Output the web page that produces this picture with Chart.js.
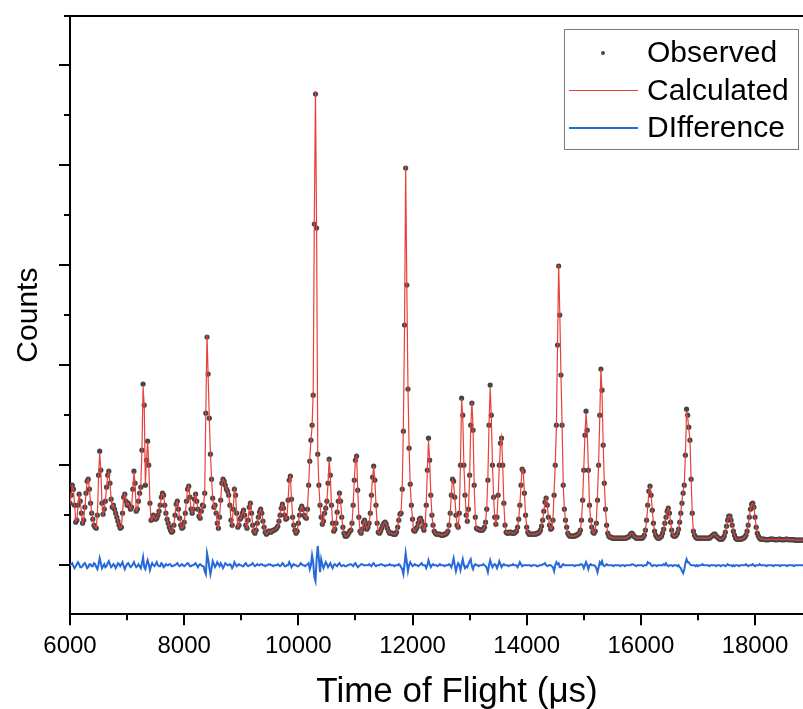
<!DOCTYPE html>
<html>
<head>
<meta charset="utf-8">
<title>Time of flight refinement</title>
<script src="https://cdn.jsdelivr.net/npm/chart.js@4.4.1/dist/chart.umd.min.js"></script>
<style>
  html, body { margin: 0; padding: 0; background: #fff; }
  #wrap { width: 803px; height: 709px; }
</style>
</head>
<body>
<div id="wrap"><canvas id="tofChart" width="803" height="709"></canvas></div>
<script>
// time-of-flight grid (µs), one value every 20 µs, 20 values per row
const tofStart = 6000;
const tofStep = 20;

// counts (arbitrary units, 1000 per major y tick)
const observed = [
  620, 700, 800, 760, 600, 430, 450, 600, 710, 640, 520, 420, 450, 580, 720, 840, 860, 760, 620, 520,
  460, 400, 380, 370, 500, 900, 1140, 950, 620, 510, 560, 640, 780, 900, 940, 820, 660, 580, 600, 560,
  520, 480, 440, 400, 370, 380, 520, 680, 710, 640, 600, 620, 590, 560, 580, 760, 940, 820, 540, 560,
  640, 720, 780, 1150, 1810, 1600, 800, 1050, 1240, 1000, 620, 450, 460, 500, 480, 460, 470, 500, 540, 600,
  680, 720, 700, 600, 520, 460, 420, 380, 350, 330, 340, 400, 500, 610, 640, 560, 470, 400, 370, 380,
  430, 520, 640, 760, 790, 680, 560, 520, 560, 660, 710, 640, 560, 490, 470, 540, 600, 590, 720, 1520,
  2280, 1910, 1470, 1110, 860, 670, 580, 600, 520, 420, 370, 480, 650, 820, 860, 840, 800, 760, 740, 700,
  600, 450, 400, 560, 760, 700, 520, 380, 400, 460, 480, 520, 550, 500, 400, 370, 450, 580, 620, 520,
  400, 340, 320, 350, 420, 480, 530, 560, 520, 440, 380, 330, 310, 320, 340, 340, 330, 340, 350, 350,
  360, 370, 390, 440, 500, 570, 610, 570, 500, 460, 470, 650, 850, 890, 660, 480, 400, 350, 320, 340,
  420, 500, 560, 590, 560, 500, 480, 470, 560, 800, 1040, 1250, 1400, 1700, 3410, 4710, 3370, 1110, 800, 600,
  480, 410, 440, 520, 570, 640, 820, 1060, 900, 600, 420, 340, 360, 420, 530, 640, 720, 640, 480, 380,
  320, 290, 290, 300, 320, 340, 350, 420, 600, 850, 1050, 1090, 750, 480, 340, 320, 360, 430, 450, 400,
  360, 380, 420, 520, 700, 880, 990, 850, 600, 420, 330, 320, 340, 370, 400, 420, 430, 410, 370, 340,
  320, 320, 320, 310, 310, 310, 330, 380, 450, 510, 520, 760, 1340, 2400, 3970, 2800, 1760, 1170, 810, 600,
  460, 350, 340, 360, 380, 420, 460, 470, 440, 380, 350, 400, 600, 950, 1270, 1050, 700, 500, 400, 340,
  320, 310, 310, 310, 310, 300, 300, 300, 310, 310, 320, 340, 400, 520, 700, 860, 840, 680, 500, 400,
  380, 520, 1000, 1670, 1500, 1000, 700, 500, 440, 560, 900, 1400, 1620, 1350, 800, 480, 370, 360, 360, 350,
  350, 350, 360, 380, 430, 560, 850, 1400, 1800, 1500, 1000, 680, 480, 410, 480, 700, 1000, 1220, 1270, 1000,
  620, 400, 330, 320, 320, 330, 330, 320, 320, 320, 330, 340, 380, 460, 600, 800, 960, 940, 720, 500,
  380, 330, 310, 310, 310, 310, 310, 310, 310, 320, 320, 330, 350, 390, 450, 540, 630, 670, 600, 480,
  400, 360, 370, 450, 700, 1000, 1400, 2200, 2990, 2500, 1900, 1400, 800, 560, 450, 380, 320, 300, 290, 290,
  290, 290, 290, 300, 300, 310, 320, 350, 450, 650, 950, 1300, 1540, 1350, 950, 600, 450, 380, 330, 320,
  340, 420, 650, 1000, 1500, 1960, 1750, 1200, 820, 560, 400, 320, 290, 280, 280, 270, 270, 270, 270, 270,
  270, 270, 270, 270, 270, 270, 270, 270, 280, 280, 290, 310, 320, 310, 290, 280, 270, 270, 270, 270,
  270, 270, 280, 300, 350, 450, 600, 740, 790, 700, 550, 420, 340, 300, 280, 270, 270, 280, 290, 320,
  360, 420, 480, 540, 570, 520, 430, 350, 300, 290, 290, 300, 320, 360, 430, 520, 620, 720, 800, 1100,
  1560, 1500, 1380, 1250, 860, 520, 340, 300, 280, 270, 270, 270, 270, 270, 270, 270, 270, 270, 270, 270,
  270, 280, 290, 300, 310, 310, 290, 280, 270, 260, 260, 260, 270, 290, 330, 390, 450, 490, 490, 450,
  400, 340, 300, 270, 260, 260, 260, 260, 260, 270, 270, 280, 300, 340, 400, 480, 560, 610, 620, 580,
  480, 380, 320, 290, 270, 260, 260, 260, 260, 255, 255, 255, 255, 260, 260, 260, 260, 255, 255, 255,
  255, 260, 260, 255, 255, 255, 255, 260, 260, 255, 255, 255, 255, 255, 255, 250, 250, 250, 250, 250,
  250, 250, 250
];

const calculated = [
  620, 700, 790, 760, 610, 440, 450, 590, 700, 640, 530, 420, 450, 580, 710, 840, 860, 760, 620, 520,
  460, 400, 380, 370, 510, 890, 1120, 950, 620, 510, 560, 640, 780, 900, 930, 820, 660, 580, 600, 560,
  520, 480, 440, 400, 370, 380, 520, 680, 710, 640, 600, 620, 590, 560, 580, 760, 930, 820, 540, 560,
  640, 720, 780, 1150, 1780, 1600, 810, 1050, 1230, 1000, 630, 450, 460, 500, 480, 460, 470, 500, 540, 600,
  680, 720, 700, 600, 520, 460, 420, 380, 350, 330, 340, 400, 500, 610, 640, 560, 470, 400, 370, 380,
  430, 520, 640, 760, 790, 680, 560, 520, 560, 660, 710, 640, 560, 490, 470, 540, 600, 590, 740, 1560,
  2300, 1890, 1460, 1120, 860, 670, 580, 600, 520, 420, 370, 480, 650, 820, 860, 840, 800, 760, 740, 700,
  600, 450, 400, 560, 760, 700, 520, 380, 400, 460, 480, 520, 550, 500, 400, 370, 450, 580, 620, 520,
  400, 340, 320, 350, 420, 480, 530, 560, 520, 440, 380, 330, 310, 320, 340, 340, 330, 340, 350, 350,
  360, 370, 390, 440, 500, 570, 610, 570, 500, 460, 470, 650, 850, 890, 660, 480, 400, 350, 320, 340,
  420, 500, 560, 590, 560, 500, 480, 470, 560, 800, 1060, 1250, 1380, 1720, 3450, 4740, 3330, 1130, 790, 600,
  480, 410, 440, 520, 570, 640, 820, 1060, 900, 600, 420, 340, 360, 420, 530, 640, 720, 640, 480, 380,
  320, 290, 290, 300, 320, 340, 350, 420, 600, 850, 1050, 1090, 750, 480, 340, 320, 360, 430, 450, 400,
  360, 380, 420, 520, 700, 880, 990, 850, 600, 420, 330, 320, 340, 370, 400, 420, 430, 410, 370, 340,
  320, 320, 320, 310, 310, 310, 330, 380, 450, 510, 530, 780, 1400, 2380, 3990, 2780, 1790, 1170, 800, 600,
  460, 350, 340, 360, 380, 420, 460, 470, 440, 380, 350, 400, 610, 950, 1240, 1050, 710, 500, 400, 340,
  320, 310, 310, 310, 310, 300, 300, 300, 310, 310, 320, 340, 400, 520, 710, 850, 810, 680, 520, 400,
  370, 520, 1030, 1660, 1480, 1000, 710, 510, 440, 560, 880, 1370, 1630, 1370, 800, 480, 370, 360, 360, 350,
  350, 350, 360, 380, 430, 570, 880, 1400, 1770, 1490, 1010, 680, 480, 410, 490, 700, 980, 1210, 1280, 1000,
  610, 400, 330, 320, 320, 330, 330, 320, 320, 320, 330, 340, 380, 460, 600, 800, 960, 940, 720, 500,
  380, 330, 310, 310, 310, 310, 310, 310, 310, 320, 320, 330, 350, 390, 450, 540, 630, 670, 600, 480,
  400, 360, 370, 460, 740, 1000, 1380, 2200, 3000, 2510, 1910, 1400, 800, 560, 450, 380, 320, 300, 290, 290,
  290, 290, 290, 300, 300, 310, 320, 350, 450, 650, 970, 1300, 1520, 1350, 980, 600, 450, 380, 330, 320,
  350, 440, 700, 1020, 1480, 1960, 1720, 1200, 820, 560, 400, 320, 290, 280, 280, 270, 270, 270, 270, 270,
  270, 270, 270, 270, 270, 270, 270, 270, 280, 280, 290, 310, 320, 310, 290, 280, 270, 270, 270, 270,
  270, 270, 280, 300, 350, 450, 580, 730, 780, 700, 550, 420, 340, 300, 280, 270, 270, 280, 290, 320,
  350, 420, 470, 540, 570, 520, 430, 350, 300, 290, 290, 300, 320, 360, 430, 530, 640, 740, 800, 1100,
  1520, 1480, 1360, 1250, 860, 520, 340, 300, 280, 270, 270, 270, 270, 270, 270, 270, 270, 270, 270, 270,
  270, 280, 290, 300, 310, 310, 290, 280, 270, 260, 260, 260, 270, 290, 330, 390, 450, 490, 490, 450,
  400, 340, 300, 270, 260, 260, 260, 260, 260, 270, 270, 280, 300, 340, 400, 480, 560, 610, 620, 580,
  480, 380, 320, 290, 270, 260, 260, 260, 260, 255, 255, 255, 255, 260, 260, 260, 260, 255, 255, 255,
  255, 260, 260, 255, 255, 255, 255, 260, 260, 255, 255, 255, 255, 255, 255, 250, 250, 250, 250, 250,
  250, 250, 250
];

const difference = [
  0, 10, 20, -10, -30, -10, 10, 30, 10, -20, -20, -10, 10, 20, 0, -30, -20, 10, 10, -10,
  -10, 20, 10, -20, -40, 10, 70, 20, -30, -10, 10, -20, -10, 20, 40, 10, -20, -10, 10, 0,
  -30, -10, 20, 10, -10, 10, 30, -10, -40, -10, 10, 20, 0, -20, -10, 10, 30, 0, -20, -10,
  10, -10, -30, 20, 80, -20, -40, 10, 50, 10, -50, -10, 20, 0, -10, 10, 30, 0, -10, -10,
  20, 10, -20, -10, 10, 0, 0, 10, 10, -10, -10, 0, 0, 10, 20, 0, -10, 0, 10, 0,
  -10, 0, 10, 20, 10, -10, -10, 0, 0, 10, 20, 0, -20, 0, 10, 0, -10, -10, -60, -90,
  120, 60, -20, -90, -30, 40, 10, -20, 0, 30, 10, -10, 20, 0, -30, -10, 20, 10, 0, 0,
  10, 0, -30, -10, 30, 10, -10, 0, 10, 0, 0, -10, -10, 10, 20, 0, -10, 0, 0, 10,
  20, 0, -10, 0, 10, 0, 0, 10, 10, 0, 0, -10, 0, 0, 10, 10, 0, 0, -10, 0,
  0, 0, 10, 0, -10, 0, 20, 10, -10, -10, 0, 0, 30, 10, -20, 0, 10, 0, 0, -10,
  -10, 0, 20, 10, 0, 0, -10, 0, 10, 20, -40, 0, 100, 30, -120, -160, 60, 190, 60, -70,
  60, 10, -30, 0, 30, 10, -20, 0, 20, -10, -30, 0, 10, 0, -10, 10, 20, 0, -10, 0,
  0, -10, -10, 0, 0, 10, 10, 0, -10, 10, 20, 0, -20, -10, 0, 10, 10, 0, 0, 0,
  0, 0, 10, 0, -10, 10, 20, 0, -10, 0, 0, 0, 10, 10, 0, 0, -10, 0, 0, 0,
  10, 0, 0, 0, -10, 0, 0, 0, 10, 0, -20, -40, -90, 10, 120, 30, -60, 0, 30, 10,
  -10, 0, 10, 0, 0, -10, 0, 10, 20, 0, 0, 0, -30, 0, 50, 10, -20, 0, 10, 0,
  0, 0, -10, 0, 10, 0, 0, 0, -10, 0, 0, 0, 10, 0, -20, 20, 70, 0, -60, -10,
  20, 0, -50, 10, 60, 0, -30, -10, -20, 10, 40, 60, -10, -40, 0, 10, 0, 0, -10, 0,
  0, 0, 10, 0, -10, -30, -70, 0, 50, 10, -20, 0, 10, 0, -30, 0, 40, 10, -20, 0,
  10, 0, 0, 0, -10, 0, 0, 0, 10, 0, 0, 0, -20, 0, 30, 10, -10, 0, 0, 0,
  0, 0, 0, 0, -10, 0, 0, 0, 0, -10, -10, 0, 0, 0, 10, 10, 20, 0, -10, 0,
  0, 0, -10, -20, -60, 0, 30, 10, 20, -20, -20, 0, 10, 0, 0, 0, 0, 0, 0, 0,
  0, 0, -10, 0, 0, 0, 0, 10, 10, 0, -30, 0, 30, 0, -40, 0, 10, 0, 0, 0,
  -10, -30, -70, -20, 30, 10, 40, 0, -10, 0, 10, 0, 0, 0, 0, 0, -10, 0, 0, 0,
  0, 0, -10, 0, 0, 0, -10, 0, 0, 0, 0, 0, 10, 10, 0, 0, -10, 0, 0, 0,
  0, 0, -10, 0, 0, 0, 30, 20, 20, 0, -10, 0, 0, 0, -10, 0, 0, 0, 0, 0,
  10, 0, 20, 0, -10, 0, 0, 0, -10, 0, 0, 0, -10, 0, -20, -30, -60, -80, -40, 20,
  60, 30, 30, 10, 0, 0, 0, 0, -10, 0, -10, 0, 0, 0, 10, 0, 0, 0, 0, 0,
  -10, 0, 0, 0, 0, 0, -10, 0, 0, 0, -10, 0, 0, 0, -10, 0, 10, 0, 0, 0,
  -10, 0, -10, 0, 0, 0, -10, 0, 0, 0, 0, 0, 10, 0, -10, 0, 0, 0, 10, 0,
  -10, 0, 0, 0, 10, 0, 0, 0, 0, 0, -10, 0, 0, 0, 0, 0, -10, 0, 0, 0,
  0, 0, -10, 0, 0, 0, 0, 0, -10, 0, 0, 0, 0, 0, -10, 0, 0, 0, 0, 0,
  0, 0, 0
];

const seriesNames = ["Observed", "Calculated", "DIfference"];
const xTitle = "Time of Flight (μs)";
const yTitle = "Counts";
const xMajorTicks = [6000, 8000, 10000, 12000, 14000, 16000, 18000];
const xMinorTicks = [7000, 9000, 11000, 13000, 15000, 17000];
const yMajorTicks = [0, 1000, 2000, 3000, 4000, 5000];
const yMinorTicks = [500, 1500, 2500, 3500, 4500];

const FONT = "'Liberation Sans', Arial, sans-serif";
Chart.defaults.font.family = FONT;
Chart.defaults.color = "#000";

function toPoints(values) {
  return values.map((v, i) => ({ x: tofStart + i * tofStep, y: v }));
}

// minor ticks, frame stub and the x title (the original plot is cropped on
// the right, so its title sits right of the visible axis centre)
const axisExtras = {
  id: "axisExtras",
  afterDraw(chart) {
    const { ctx, chartArea, scales } = chart;
    ctx.save();
    ctx.strokeStyle = "#000";
    ctx.lineWidth = 2;
    ctx.beginPath();
    xMinorTicks.forEach(t => {
      const px = Math.round(scales.x.getPixelForValue(t));
      ctx.moveTo(px, chartArea.bottom);
      ctx.lineTo(px, chartArea.bottom + 6);
    });
    yMinorTicks.forEach(t => {
      const py = Math.round(scales.y.getPixelForValue(t));
      ctx.moveTo(chartArea.left, py);
      ctx.lineTo(chartArea.left - 6, py);
    });
    ctx.moveTo(chartArea.left - 6, chartArea.top);
    ctx.lineTo(chartArea.left, chartArea.top);
    ctx.stroke();

    ctx.fillStyle = "#000";
    ctx.font = "35px " + FONT;
    ctx.textAlign = "center";
    ctx.textBaseline = "middle";
    ctx.fillText(xTitle, chartArea.left + 387, 692);
    ctx.restore();
  }
};

// boxed legend in the top right corner
const boxLegend = {
  id: "boxLegend",
  afterDraw(chart) {
    const { ctx, chartArea } = chart;
    const left = chart.width - 239;
    const top = chartArea.top + 13;
    ctx.save();
    ctx.fillStyle = "#fff";
    ctx.fillRect(left, top, 234, 120);
    ctx.strokeStyle = "#7a7a7a";
    ctx.lineWidth = 1;
    ctx.strokeRect(left + 0.5, top + 0.5, 234, 120);

    ctx.font = "30px " + FONT;
    ctx.textBaseline = "middle";
    ctx.textAlign = "left";
    chart.data.datasets.forEach((ds, i) => {
      const y = top + 24 + i * 37.5;
      if (ds.showLine === false) {
        ctx.fillStyle = ds.pointBackgroundColor;
        ctx.beginPath();
        ctx.arc(left + 39, y, 2, 0, Math.PI * 2);
        ctx.fill();
      } else {
        ctx.strokeStyle = ds.borderColor;
        ctx.lineWidth = ds.borderWidth;
        ctx.beginPath();
        ctx.moveTo(left + 5, y);
        ctx.lineTo(left + 74, y);
        ctx.stroke();
      }
      ctx.fillStyle = "#000";
      ctx.fillText(ds.label, left + 83, y + 1);
    });
    ctx.restore();
  }
};

const ctx = document.getElementById("tofChart").getContext("2d");
new Chart(ctx, {
  type: "line",
  data: {
    datasets: [
      {
        label: seriesNames[0],
        data: toPoints(observed),
        showLine: false,
        pointRadius: 2.6,
        pointBackgroundColor: "#464646",
        pointBorderWidth: 0,
        order: 3
      },
      {
        label: seriesNames[1],
        data: toPoints(calculated),
        borderColor: "#e8403a",
        borderWidth: 1.2,
        pointRadius: 0,
        order: 1
      },
      {
        label: seriesNames[2],
        data: toPoints(difference),
        borderColor: "#2569db",
        borderWidth: 2,
        pointRadius: 0,
        order: 2
      }
    ]
  },
  options: {
    responsive: false,
    animation: false,
    devicePixelRatio: 1,
    layout: { autoPadding: false, padding: { left: 11, top: 8, right: 0, bottom: 41 } },
    plugins: { legend: { display: false }, tooltip: { enabled: false } },
    scales: {
      x: {
        type: "linear",
        min: 6000,
        max: 18840,
        border: { color: "#000", width: 2 },
        grid: { drawOnChartArea: false, color: "#000", lineWidth: 2, tickLength: 11 },
        afterBuildTicks: scale => { scale.ticks = xMajorTicks.map(v => ({ value: v })); },
        ticks: {
          color: "#000",
          font: { size: 24 },
          padding: 7,
          maxRotation: 0,
          autoSkip: false,
          callback: v => String(v)
        }
      },
      xTop: {
        type: "linear",
        position: "top",
        min: 6000,
        max: 18840,
        border: { color: "#000", width: 2 },
        grid: { display: false },
        ticks: { display: false }
      },
      y: {
        min: -490,
        max: 5490,
        border: { color: "#000", width: 2 },
        grid: { drawOnChartArea: false, color: "#000", lineWidth: 2, tickLength: 11 },
        afterBuildTicks: scale => { scale.ticks = yMajorTicks.map(v => ({ value: v })); },
        ticks: { display: false },
        title: {
          display: true,
          text: yTitle,
          font: { size: 30 },
          color: "#000",
          padding: { top: 0, bottom: 12 }
        }
      }
    }
  },
  plugins: [axisExtras, boxLegend]
});
</script>
</body>
</html>
